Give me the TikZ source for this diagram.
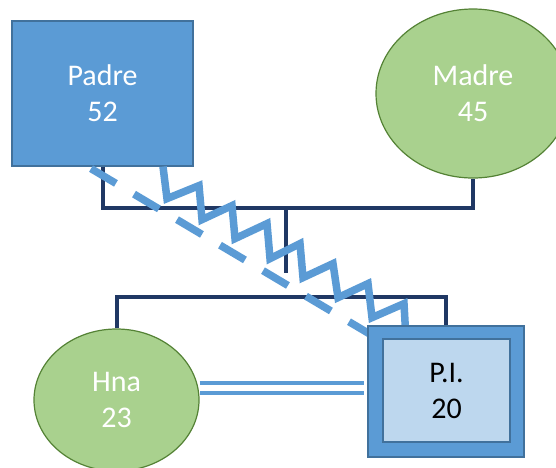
\documentclass[tikz,border=0pt]{standalone}
\usepackage{fontspec}
\setmainfont{Carlito}
\usetikzlibrary{shapes.geometric,calc}
\definecolor{accblue}{HTML}{5B9BD5}
\definecolor{blueedge}{HTML}{41719C}
\definecolor{lightblue}{HTML}{BDD7EE}
\definecolor{accgreen}{HTML}{A9D18E}
\definecolor{greenedge}{HTML}{548235}
\definecolor{navy}{HTML}{203864}
\tikzset{
  lbl/.style={align=center, font=\fontsize{30}{36}\selectfont, inner sep=0pt},
  malebox/.style={rectangle, fill=accblue, draw=blueedge, line width=1.2pt, lbl, text=white},
  femaleoval/.style={ellipse, fill=accgreen, draw=greenedge, line width=1.2pt, lbl, text=white},
  pioutbox/.style={rectangle, fill=accblue, draw=blueedge, line width=1.2pt, inner sep=0pt},
  piinbox/.style={rectangle, fill=lightblue, draw=blueedge, line width=1.2pt, lbl, text=black},
  famline/.style={draw=navy, line width=4pt},
  rel/.style={draw=accblue, line width=7.5pt},
}
\begin{document}
\begin{tikzpicture}[x=1pt,y=-1pt]
\useasboundingbox (0,0) rectangle (556,467);
% people
\node[malebox, minimum width=181pt, minimum height=145pt] (padre) at (102.5,93.5) {Padre\\52};
\node[femaleoval, minimum width=194pt, minimum height=169pt] (madre) at (473,93.5) {Madre\\45};
\node[femaleoval, minimum width=165pt, minimum height=142pt] (hna) at (116.5,400) {Hna\\23};
% family lines
\draw[famline] (padre.south) -- ++(0,41) coordinate (mleft) -| (madre.south);
\coordinate (ctop) at ($(mleft)+(183,0)$);
\coordinate (cbot) at ($(ctop)+(0,65)$);
\draw[famline] (ctop) -- (cbot);
\coordinate (pitop) at (446,326);
\draw[famline] (hna.north) |- ($(pitop)+(0,-29)$) -- (pitop);
% relationship lines
\draw[rel, dash pattern=on 29pt off 21pt] ([xshift=-11.5pt,yshift=-2pt]padre.south) -- ++(289,171.5) coordinate (dashend);
\draw[rel, line join=miter] ([xshift=60.5pt]padre.south)
  -- ++(4,32) -- ++(32,-13) -- ++(3,34) -- ++(30,-14) -- ++(3,33)
  -- ++(32,-15) -- ++(3,35) -- ++(30,-15) -- ++(3,34) -- ++(30,-14)
  -- ++(5,34) -- ++(30,-14) -- ++(4,34) -- ++(32,-14) -- ++(2,36) coordinate (zigend);
% proband
\node[pioutbox, minimum width=156pt, minimum height=131pt] (piout) at (446,391.5) {};
\node[piinbox, minimum width=127pt, minimum height=103pt] (pi) at (446.5,390.5) {P.I.\\20};
% sibling double line
\draw[draw=accblue, line width=4pt, double=white, double distance=6pt]
  ([yshift=12pt]hna.east) -- ([xshift=-3pt,yshift=3.5pt]piout.west);
\end{tikzpicture}
\end{document}
